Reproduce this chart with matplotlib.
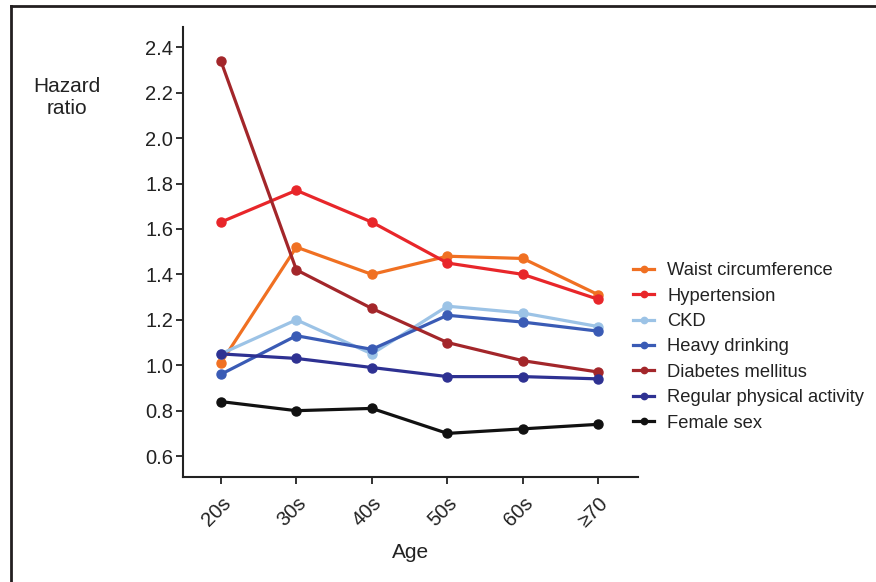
import matplotlib.pyplot as plt
from matplotlib.lines import Line2D

plt.rcParams['font.family'] = ['Liberation Sans', 'DejaVu Sans']

ages = ["20s", "30s", "40s", "50s", "60s", "≥70"]

waist = [1.01, 1.52, 1.40, 1.48, 1.47, 1.31]
hypertension = [1.63, 1.77, 1.63, 1.45, 1.40, 1.29]
ckd = [1.05, 1.20, 1.05, 1.26, 1.23, 1.17]
heavy_drinking = [0.96, 1.13, 1.07, 1.22, 1.19, 1.15]
diabetes = [2.34, 1.42, 1.25, 1.10, 1.02, 0.97]
physical_activity = [1.05, 1.03, 0.99, 0.95, 0.95, 0.94]
female_sex = [0.84, 0.80, 0.81, 0.70, 0.72, 0.74]

series = [
    ("Waist circumference", waist, "#f07022"),
    ("Hypertension", hypertension, "#e8262a"),
    ("CKD", ckd, "#9cc3e6"),
    ("Heavy drinking", heavy_drinking, "#3a5bb5"),
    ("Diabetes mellitus", diabetes, "#a3262a"),
    ("Regular physical activity", physical_activity, "#2e3192"),
    ("Female sex", female_sex, "#111111"),
]

fig = plt.figure(figsize=(8.76, 5.82), dpi=100)
ax = fig.add_axes([0.209, 0.180, 0.519, 0.774])

x = list(range(len(ages)))
for name, vals, col in series:
    ax.plot(x, vals, color=col, lw=2.3, marker='o', ms=6.5, label=name)

ax.set_xlim(-0.5, 5.52)
ax.set_ylim(0.507, 2.49)
ax.set_yticks([0.6, 0.8, 1.0, 1.2, 1.4, 1.6, 1.8, 2.0, 2.2, 2.4])
ax.set_yticklabels(["0.6", "0.8", "1.0", "1.2", "1.4", "1.6", "1.8", "2.0", "2.2", "2.4"])
ax.set_xticks(x)
ax.set_xticklabels(ages, rotation=45, ha='right', va='top', rotation_mode='anchor')
ax.tick_params(labelsize=14.5, width=1.3, length=5, colors='#222222')
ax.tick_params(axis='x', pad=7)
ax.tick_params(axis='y', pad=2)
for s in ["top", "right"]:
    ax.spines[s].set_visible(False)
for s in ["left", "bottom"]:
    ax.spines[s].set_linewidth(1.5)
    ax.spines[s].set_color('#222222')

ax.set_xlabel("Age", fontsize=15, labelpad=9, color='#222222')
fig.text(0.076, 0.8325, "Hazard\nratio", fontsize=15, ha='center', va='center',
         linespacing=1.2, color='#222222')

leg = fig.legend(loc='upper left', bbox_to_anchor=(0.704, 0.578), frameon=False,
                 fontsize=13.2, handlelength=1.15, handletextpad=0.7, labelspacing=0.46,
                 markerscale=0.7)
for t in leg.get_texts():
    t.set_color('#222222')

# outer frame lines (top and left)
fig.add_artist(Line2D([0.0125, 0.0125], [0, 0.99], color='#231f20', lw=2))
fig.add_artist(Line2D([0.0125, 1.0], [0.99, 0.99], color='#231f20', lw=2))

fig.savefig("out.png", dpi=100)
